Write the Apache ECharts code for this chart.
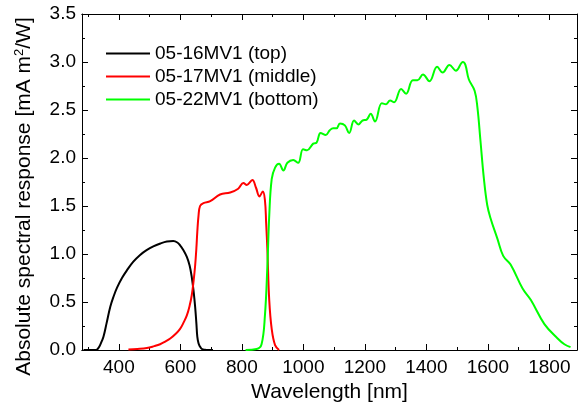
<!DOCTYPE html>
<html>
<head>
<meta charset="utf-8">
<script src="https://cdn.jsdelivr.net/npm/echarts@6/dist/echarts.min.js"></script>
<style>html,body{margin:0;padding:0;background:#fff}#c{width:582px;height:409px}</style>
</head>
<body>
<div id="c"></div>
<script>
const seriesNames = ['05-16MV1 (top)', '05-17MV1 (middle)', '05-22MV1 (bottom)'];

const topX = [285, 300, 320, 329, 337, 344, 350, 360, 372, 383, 394, 410, 426, 447, 469, 490, 512, 535, 556, 577, 590, 599, 610, 621, 630, 637, 643, 648, 652, 655, 659, 663, 670, 680, 690, 706];
const topY = [0, 0, 0, 0.005, 0.04, 0.09, 0.14, 0.28, 0.45, 0.56, 0.65, 0.75, 0.83, 0.92, 0.99, 1.04, 1.08, 1.11, 1.13, 1.135, 1.12, 1.09, 1.04, 0.97, 0.88, 0.76, 0.61, 0.45, 0.28, 0.14, 0.07, 0.04, 0.01, 0.002, 0, 0];

const midX = [431, 460, 491, 515, 534, 552, 567, 585, 599, 611, 621, 630, 637, 643, 648, 652, 655, 659, 664, 675, 697, 729, 762, 788, 805, 816, 834, 846, 857, 868, 875, 879, 883, 889, 897, 908, 921];
const midY = [0.005, 0.01, 0.02, 0.04, 0.06, 0.09, 0.12, 0.17, 0.22, 0.29, 0.36, 0.46, 0.57, 0.72, 0.88, 1.06, 1.23, 1.4, 1.5, 1.53, 1.55, 1.62, 1.64, 1.68, 1.74, 1.72, 1.77, 1.69, 1.6, 1.65, 1.56, 1.32, 1.04, 0.52, 0.22, 0.05, 0];

const botX = [812, 848, 864, 875, 883, 889, 897, 908, 921, 935, 948, 967, 983, 999, 1012, 1032, 1043, 1056, 1073, 1086, 1097, 1108, 1119, 1135, 1149, 1165, 1179, 1192, 1206, 1219, 1233, 1255, 1269, 1282, 1295, 1318, 1334, 1356, 1371, 1389, 1410, 1435, 1453, 1475, 1496, 1519, 1527, 1538, 1557, 1566, 1576, 1587, 1598, 1609, 1631, 1650, 1674, 1713, 1740, 1784, 1827, 1849, 1869];
const botY = [0, 0.01, 0.06, 0.36, 0.88, 1.4, 1.78, 1.9, 1.94, 1.87, 1.95, 1.98, 1.95, 2.09, 2.08, 2.15, 2.16, 2.26, 2.24, 2.29, 2.31, 2.31, 2.36, 2.34, 2.26, 2.39, 2.35, 2.39, 2.40, 2.46, 2.38, 2.57, 2.56, 2.60, 2.58, 2.72, 2.67, 2.81, 2.81, 2.87, 2.80, 2.95, 2.89, 2.97, 2.91, 3.00, 2.97, 2.82, 2.70, 2.53, 2.18, 1.79, 1.51, 1.37, 1.16, 0.98, 0.89, 0.64, 0.52, 0.27, 0.12, 0.06, 0.03];

const xMajorTicks = [400, 600, 800, 1000, 1200, 1400, 1600, 1800];
const xMinorTicks = [300, 500, 700, 900, 1100, 1300, 1500, 1700];
const xRange = [280, 1890];
const yRange = [0, 3.5];

const FONT = '"Liberation Sans", Arial, sans-serif';
const colors = ['#000000', '#ff0000', '#00ff00'];

function pairs(xs, ys) { return xs.map((x, i) => [x, ys[i]]); }

function xAxisDef(pos, ticks, len, showLabel, extra) {
  return Object.assign({
    type: 'value', position: pos, min: xRange[0], max: xRange[1],
    axisLine: { show: true, onZero: false, lineStyle: { color: '#000', width: 1 } },
    axisTick: { show: true, inside: true, length: len, customValues: ticks, lineStyle: { color: '#000', width: 1 } },
    axisLabel: { show: showLabel, customValues: ticks, color: '#000', fontSize: 19, fontFamily: FONT, margin: 8, formatter: v => String(v) },
    splitLine: { show: false }
  }, extra || {});
}
function yAxisDef(pos, showLabel, extra) {
  return Object.assign({
    type: 'value', position: pos, min: yRange[0], max: yRange[1], interval: 0.5,
    axisLine: { show: true, onZero: false, lineStyle: { color: '#000', width: 1 } },
    axisTick: { show: true, inside: true, length: 6, lineStyle: { color: '#000', width: 1 } },
    minorTick: { show: true, splitNumber: 2, length: 3, lineStyle: { color: '#000', width: 1 } },
    axisLabel: { show: showLabel, color: '#000', fontSize: 19, fontFamily: FONT, margin: 6, formatter: v => v.toFixed(1) },
    splitLine: { show: false }, minorSplitLine: { show: false }
  }, extra || {});
}

const chart = echarts.init(document.getElementById('c'), null, { renderer: 'canvas' });
const dataSets = [pairs(topX, topY), pairs(midX, midY), pairs(botX, botY)];
chart.setOption({
  animation: false,
  backgroundColor: '#fff',
  grid: { left: 82, top: 14, right: 5, bottom: 59, containLabel: false },
  legend: {
    orient: 'vertical', left: 101, top: 39,
    itemWidth: 44, itemHeight: 2, itemGap: 4,
    textStyle: { fontSize: 19, fontFamily: FONT, color: '#000', lineHeight: 19 },
    data: seriesNames.map(n => ({ name: n, icon: 'rect' }))
  },
  xAxis: [
    xAxisDef('bottom', xMajorTicks, 6, true, {
      name: 'Wavelength [nm]', nameLocation: 'middle', nameGap: 30,
      nameTextStyle: { fontSize: 21, fontFamily: FONT, color: '#000' }
    }),
    xAxisDef('bottom', xMinorTicks, 3, false),
    xAxisDef('top', xMajorTicks, 6, false),
    xAxisDef('top', xMinorTicks, 3, false)
  ],
  yAxis: [
    yAxisDef('left', true, {
      name: 'Absolute spectral response [mA m{sup|2}/W]', nameLocation: 'middle', nameGap: 46,
      nameTextStyle: { fontSize: 21, fontFamily: FONT, color: '#000', padding: [0, 29, 0, 0],
        rich: { sup: { fontSize: 13, fontFamily: FONT, color: '#000', verticalAlign: 'top', lineHeight: 23 } } }
    }),
    yAxisDef('right', false)
  ],
  series: dataSets.map((d, i) => ({
    name: seriesNames[i], type: 'line', data: d, xAxisIndex: 0, yAxisIndex: 0,
    showSymbol: false, symbol: 'none', smooth: 0.4,
    lineStyle: { color: colors[i], width: 2 }, itemStyle: { color: colors[i] }
  }))
});
</script>
</body>
</html>
